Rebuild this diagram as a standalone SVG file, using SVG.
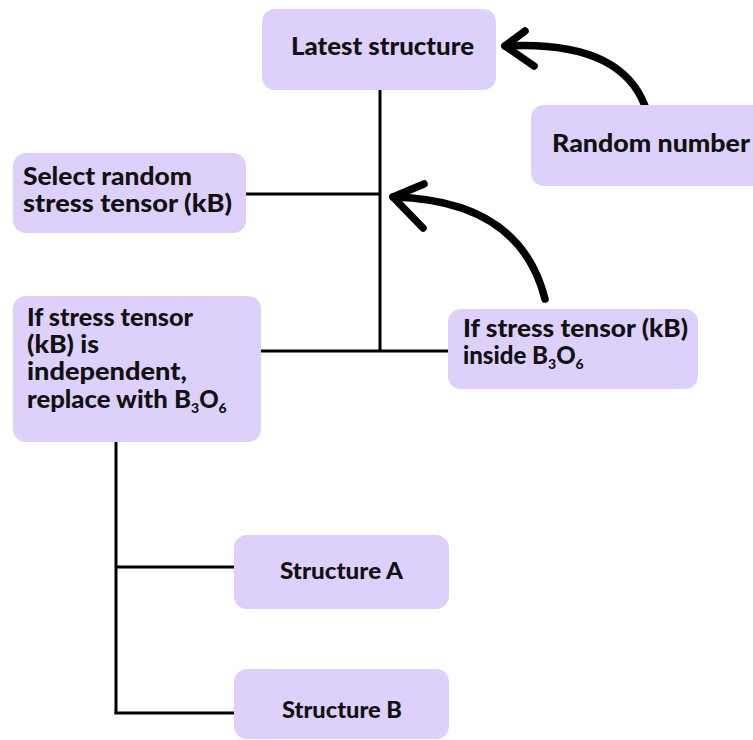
<svg xmlns="http://www.w3.org/2000/svg" width="753" height="740" viewBox="0 0 753 740">
<style>
.box{fill:#DDD1FC;}
.t{font-family:Lato,"Open Sans","Liberation Sans",sans-serif;font-weight:900;font-size:24px;fill:#111;}
.sub{font-size:14px;}
.ln{stroke:#000;stroke-width:3;fill:none;}
.arr{stroke:#000;stroke-width:7.5;fill:none;stroke-linecap:round;stroke-linejoin:round;}
</style>
<rect width="753" height="740" fill="#fff"/>
<g id="connectors">
<line class="ln" x1="380" y1="90" x2="380" y2="351"/>
<line class="ln" x1="246" y1="194" x2="380" y2="194"/>
<line class="ln" x1="261" y1="351" x2="449" y2="351"/>
<line class="ln" x1="116" y1="442" x2="116" y2="714"/>
<line class="ln" x1="116" y1="567" x2="234" y2="567"/>
<line class="ln" x1="114.5" y1="713" x2="234" y2="713"/>
<path class="arr" d="M645,106 Q620,40 505,46"/>
<path class="arr" d="M525,31 L505,46 L534,66"/>
<path class="arr" d="M545,299 Q520,200 393,197"/>
<path class="arr" d="M424,184 L393,197 L423,228"/>
</g>
<g id="latest">
<rect class="box" x="262" y="9" width="234" height="81" rx="13"/>
<text class="t" x="291" y="55" textLength="183" lengthAdjust="spacingAndGlyphs">Latest structure</text>
</g>
<g id="random">
<rect class="box" x="531" y="105" width="240" height="81" rx="13"/>
<text class="t" x="552" y="152" textLength="198" lengthAdjust="spacingAndGlyphs">Random number</text>
</g>
<g id="select">
<rect class="box" x="13" y="153" width="233" height="80" rx="13"/>
<text class="t" x="23" y="185" textLength="169" lengthAdjust="spacingAndGlyphs">Select random</text>
<text class="t" x="23" y="212" textLength="209" lengthAdjust="spacingAndGlyphs">stress tensor (kB)</text>
</g>
<g id="independent">
<rect class="box" x="13" y="296" width="248" height="146" rx="13"/>
<text class="t" x="27" y="326" textLength="166" lengthAdjust="spacingAndGlyphs">If stress tensor</text>
<text class="t" x="27" y="353" textLength="72" lengthAdjust="spacingAndGlyphs">(kB) is</text>
<text class="t" x="27" y="380" textLength="160" lengthAdjust="spacingAndGlyphs">independent,</text>
<text class="t" x="27" y="408"><tspan textLength="164" lengthAdjust="spacingAndGlyphs">replace with B</tspan><tspan class="sub" dy="5">3</tspan><tspan dy="-5">O</tspan><tspan class="sub" dy="5">6</tspan></text>
</g>
<g id="inside">
<rect class="box" x="448" y="309" width="250" height="80" rx="13"/>
<text class="t" x="463" y="337" textLength="225" lengthAdjust="spacingAndGlyphs">If stress tensor (kB)</text>
<text class="t" x="463" y="364"><tspan textLength="85" lengthAdjust="spacingAndGlyphs">inside B</tspan><tspan class="sub" dy="5">3</tspan><tspan dy="-5">O</tspan><tspan class="sub" dy="5">6</tspan></text>
</g>
<g id="structureA">
<rect class="box" x="234" y="535" width="215" height="74" rx="13"/>
<text class="t" x="280" y="579" textLength="123" lengthAdjust="spacingAndGlyphs" style="font-size:22px">Structure A</text>
</g>
<g id="structureB">
<rect class="box" x="234" y="669" width="215" height="70" rx="13"/>
<text class="t" x="282" y="718" textLength="120" lengthAdjust="spacingAndGlyphs" style="font-size:22px">Structure B</text>
</g>
</svg>
